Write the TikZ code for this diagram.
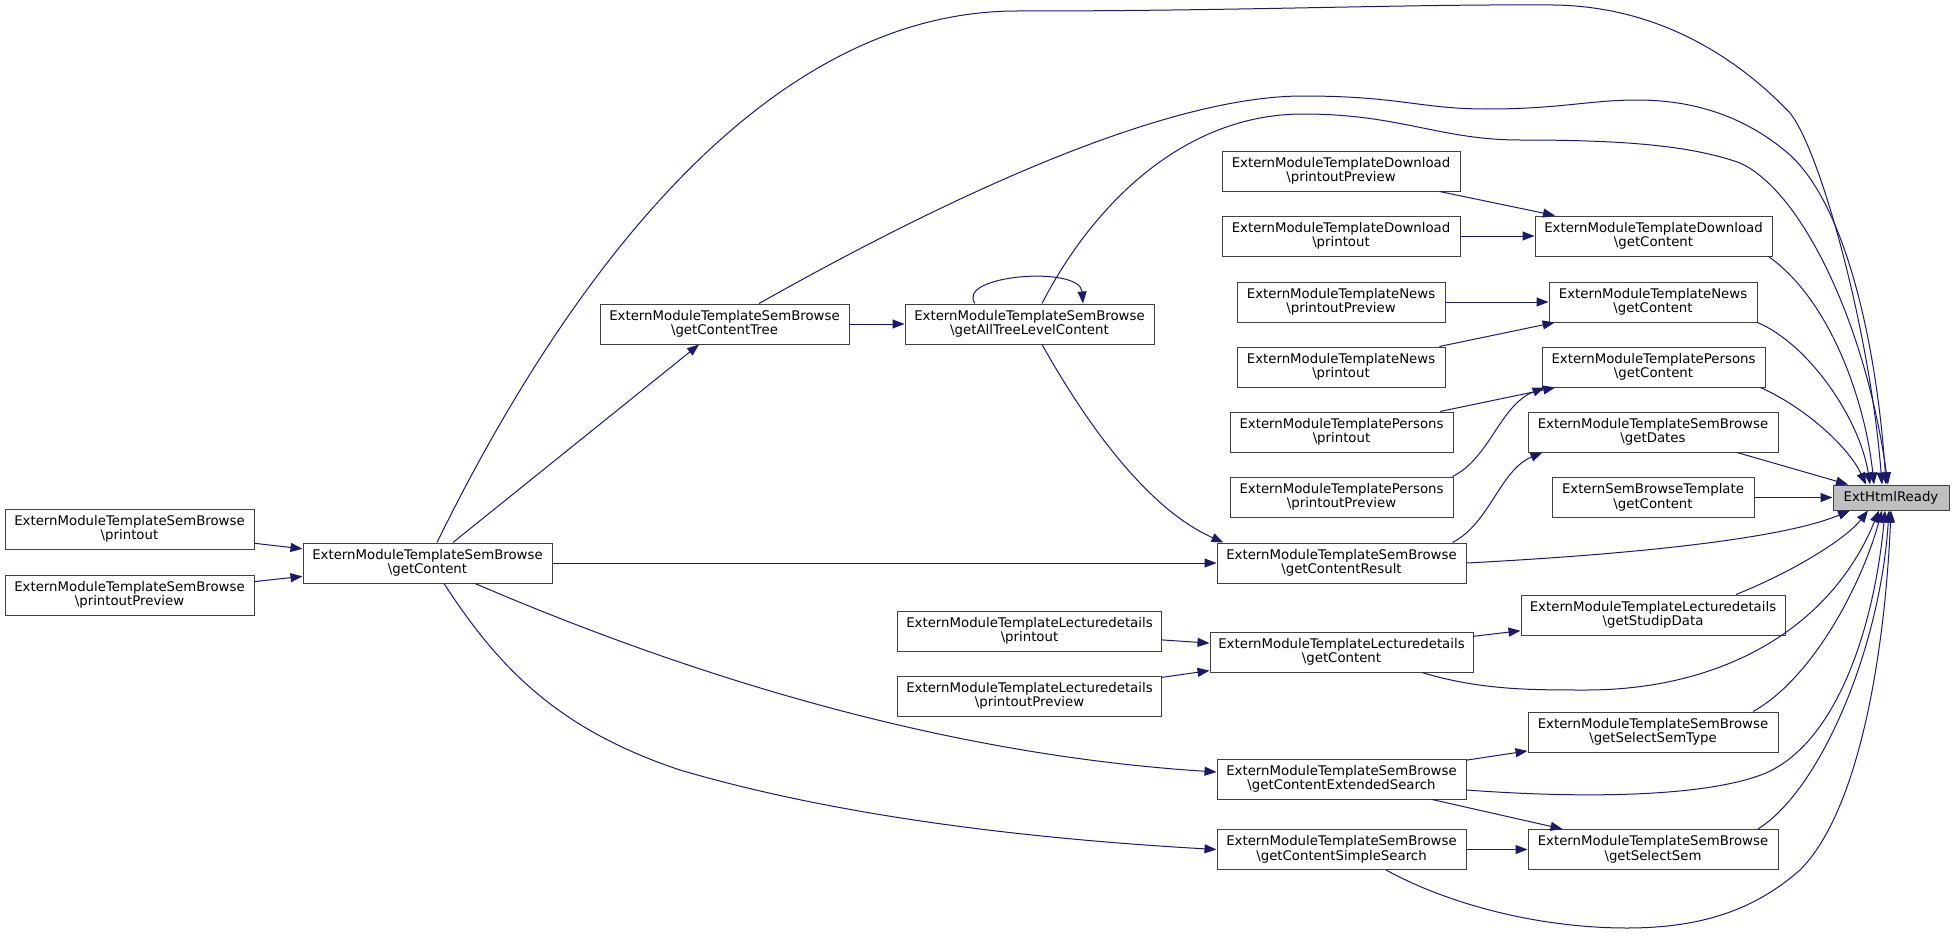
\documentclass[tikz,border=0pt]{standalone}
\usepackage{fontspec}
\setmainfont{DejaVu Sans}
\usetikzlibrary{arrows.meta}
\definecolor{edgeblue}{HTML}{191970}
\definecolor{boxgray}{HTML}{404040}
\definecolor{rootgray}{HTML}{BFBFBF}
\newcommand{\fnlabel}[2]{#1\\\textbackslash #2}
\begin{document}
\begin{tikzpicture}[x=1pt, y=-1pt,
		fn/.style={draw=boxgray, line width=1pt, fill=white, minimum width=#1pt, minimum height=40pt, inner sep=0pt, align=center, font=\fontsize{13.3pt}{14.6pt}\selectfont},
		callarrow/.style={draw=edgeblue, line width=1pt, -{Triangle[length=12pt,width=9pt]}}]
			\useasboundingbox (0,0) rectangle (1955,934);
			% 画节点
			\node[fn=249] (sbPrintout) at (129.5,529) {\fnlabel{ExternModuleTemplateSemBrowse}{printout}};
			\node[fn=249] (sbPrintoutPreview) at (129.5,595) {\fnlabel{ExternModuleTemplateSemBrowse}{printoutPreview}};
			\node[fn=249] (sbGetContent) at (427.5,563) {\fnlabel{ExternModuleTemplateSemBrowse}{getContent}};
			\node[fn=249] (sbGetContentTree) at (724.5,324) {\fnlabel{ExternModuleTemplateSemBrowse}{getContentTree}};
			\node[fn=249] (sbGetAllTree) at (1029.5,324) {\fnlabel{ExternModuleTemplateSemBrowse}{getAllTreeLevelContent}};
			\node[fn=264] (ldPrintout) at (1029.5,631) {\fnlabel{ExternModuleTemplateLecturedetails}{printout}};
			\node[fn=264] (ldPrintoutPreview) at (1029.5,696) {\fnlabel{ExternModuleTemplateLecturedetails}{printoutPreview}};
			\node[fn=238] (dlPrintoutPreview) at (1341,171) {\fnlabel{ExternModuleTemplateDownload}{printoutPreview}};
			\node[fn=238] (dlPrintout) at (1341,236) {\fnlabel{ExternModuleTemplateDownload}{printout}};
			\node[fn=208] (nwPrintoutPreview) at (1341,302) {\fnlabel{ExternModuleTemplateNews}{printoutPreview}};
			\node[fn=208] (nwPrintout) at (1341,367) {\fnlabel{ExternModuleTemplateNews}{printout}};
			\node[fn=223] (psPrintout) at (1341.5,432) {\fnlabel{ExternModuleTemplatePersons}{printout}};
			\node[fn=223] (psPrintoutPreview) at (1341.5,497) {\fnlabel{ExternModuleTemplatePersons}{printoutPreview}};
			\node[fn=249] (sbGetContentResult) at (1341.5,563) {\fnlabel{ExternModuleTemplateSemBrowse}{getContentResult}};
			\node[fn=263] (ldGetContent) at (1341.5,652) {\fnlabel{ExternModuleTemplateLecturedetails}{getContent}};
			\node[fn=249] (sbExtSearch) at (1341.5,779) {\fnlabel{ExternModuleTemplateSemBrowse}{getContentExtendedSearch}};
			\node[fn=249] (sbSimpleSearch) at (1341.5,849.5) {\fnlabel{ExternModuleTemplateSemBrowse}{getContentSimpleSearch}};
			\node[fn=237] (dlGetContent) at (1653.5,236) {\fnlabel{ExternModuleTemplateDownload}{getContent}};
			\node[fn=208] (nwGetContent) at (1653,302) {\fnlabel{ExternModuleTemplateNews}{getContent}};
			\node[fn=223] (psGetContent) at (1653.5,367) {\fnlabel{ExternModuleTemplatePersons}{getContent}};
			\node[fn=250] (sbGetDates) at (1653,432) {\fnlabel{ExternModuleTemplateSemBrowse}{getDates}};
			\node[fn=202] (esbGetContent) at (1653,497.5) {\fnlabel{ExternSemBrowseTemplate}{getContent}};
			\node[fn=264] (ldGetStudipData) at (1653,615) {\fnlabel{ExternModuleTemplateLecturedetails}{getStudipData}};
			\node[fn=250] (sbSelectSemType) at (1653,732) {\fnlabel{ExternModuleTemplateSemBrowse}{getSelectSemType}};
			\node[fn=250] (sbSelectSem) at (1653,849.5) {\fnlabel{ExternModuleTemplateSemBrowse}{getSelectSem}};
			\node[fn=116, minimum height=25pt, fill=rootgray] (htmlReady) at (1891,497.5) {ExtHtmlReady};
			% 画直线调用
			\draw[callarrow] (sbPrintout) -- (sbGetContent);
			\draw[callarrow] (sbPrintoutPreview) -- (sbGetContent);
			\draw[callarrow] (sbGetContent) -- (sbGetContentTree);
			\draw[callarrow] (sbGetContent.east) -- (sbGetContentResult.west);
			\draw[callarrow] (sbGetContentTree) -- (sbGetAllTree);
			\draw[callarrow] (ldPrintout) -- (ldGetContent);
			\draw[callarrow] (ldPrintoutPreview) -- (ldGetContent);
			\draw[callarrow] (ldGetContent) -- (ldGetStudipData);
			\draw[callarrow] (dlPrintoutPreview) -- (dlGetContent);
			\draw[callarrow] (dlPrintout) -- (dlGetContent);
			\draw[callarrow] (nwPrintoutPreview) -- (nwGetContent);
			\draw[callarrow] (nwPrintout) -- (nwGetContent);
			\draw[callarrow] (psPrintout) -- (psGetContent);
			\draw[callarrow] (sbExtSearch) -- (sbSelectSemType);
			\draw[callarrow] (sbExtSearch) -- (sbSelectSem);
			\draw[callarrow] (sbSimpleSearch) -- (sbSelectSem);
			\draw[callarrow] (esbGetContent) -- (htmlReady);
			\draw[callarrow] ([xshift=84pt]sbGetDates.south) -- ([xshift=-43pt]htmlReady.north);
			% 画曲线调用
			\draw[callarrow] ([xshift=-54.5pt]sbGetAllTree.north) .. controls (955,275) and (1080,265) .. ([xshift=53.5pt]sbGetAllTree.north);
			\draw[callarrow] ([xshift=12.5pt]sbGetAllTree.south) .. controls (1090,430) and (1150,510) .. ([xshift=7pt]sbGetContentResult.north west);
			\draw[callarrow] ([xshift=47.5pt]sbGetContent.south) .. controls (700,680) and (950,755) .. ([yshift=7pt]sbExtSearch.west);
			\draw[callarrow] ([xshift=16.5pt]sbGetContent.south) .. controls (500,670) and (560,730) .. (680,770) .. controls (850,820) and (1050,840) .. (sbSimpleSearch.west);
			\draw[callarrow] ([xshift=-1pt]psPrintoutPreview.north east) .. controls (1490,458) and (1500,405) .. ([xshift=3pt]psGetContent.south west);
			\draw[callarrow] ([xshift=-14pt]sbGetContentResult.north east) .. controls (1490,523) and (1500,470) .. ([xshift=15pt]sbGetDates.south west);
			% 画到 ExtHtmlReady 的上方曲线
			\draw[callarrow] ([xshift=9.5pt]sbGetContent.north) .. controls (569,273) and (767,11) .. (1017,11) .. controls (1250,11) and (1400,4) .. (1553,5) .. controls (1650,6) and (1730,50) .. (1790,113) .. controls (1820,150) and (1870,330) .. ([xshift=-9pt]htmlReady.north);
			\draw[callarrow] ([xshift=34.5pt]sbGetContentTree.north) .. controls (909,219) and (1150,96) .. (1303,96) .. controls (1400,96) and (1420,109) .. (1487,109) .. controls (1560,109) and (1590,100) .. (1637,100) .. controls (1700,100) and (1750,120) .. (1790,155) .. controls (1850,210) and (1878,360) .. ([xshift=-5pt]htmlReady.north);
			\draw[callarrow] ([xshift=12.5pt]sbGetAllTree.north) .. controls (1090,210) and (1180,114) .. (1303,114) .. controls (1400,114) and (1440,140) .. (1520,140) .. controls (1620,140) and (1690,145) .. (1740,163) .. controls (1800,190) and (1865,320) .. ([xshift=-3pt]htmlReady.north);
			\draw[callarrow] ([xshift=-4pt]dlGetContent.south east) .. controls (1830,300) and (1865,400) .. ([xshift=-17pt]htmlReady.north);
			\draw[callarrow] (nwGetContent.south east) .. controls (1810,345) and (1860,420) .. ([xshift=-21pt]htmlReady.north);
			\draw[callarrow] ([xshift=-5pt]psGetContent.south east) .. controls (1810,410) and (1850,450) .. ([xshift=-25pt]htmlReady.north);
			% 画到 ExtHtmlReady 的下方曲线
			\draw[callarrow] (sbGetContentResult.east) .. controls (1620,555) and (1780,540) .. ([xshift=-41pt]htmlReady.south);
			\draw[callarrow] ([xshift=83pt]ldGetStudipData.north) .. controls (1790,573) and (1845,540) .. ([xshift=-23pt]htmlReady.south);
			\draw[callarrow] ([xshift=80.5pt]ldGetContent.south) .. controls (1480,690) and (1530,690) .. (1586,690) .. controls (1720,690) and (1830,630) .. ([xshift=-12pt]htmlReady.south);
			\draw[callarrow] ([xshift=100pt]sbSelectSemType.north) .. controls (1810,680) and (1860,590) .. ([xshift=-9pt]htmlReady.south);
			\draw[callarrow] ([yshift=-11pt]sbExtSearch.east) .. controls (1560,797) and (1700,800) .. (1766,773) .. controls (1840,740) and (1875,620) .. ([xshift=-6pt]htmlReady.south);
			\draw[callarrow] ([xshift=105pt]sbSelectSem.north) .. controls (1820,790) and (1880,650) .. ([xshift=-2pt]htmlReady.south);
			\draw[callarrow] ([xshift=44.5pt]sbSimpleSearch.south) .. controls (1450,905) and (1540,928) .. (1627,928) .. controls (1710,928) and (1760,905) .. (1800,870) .. controls (1860,810) and (1885,650) .. (htmlReady.south);
		\end{tikzpicture}
\end{document}
